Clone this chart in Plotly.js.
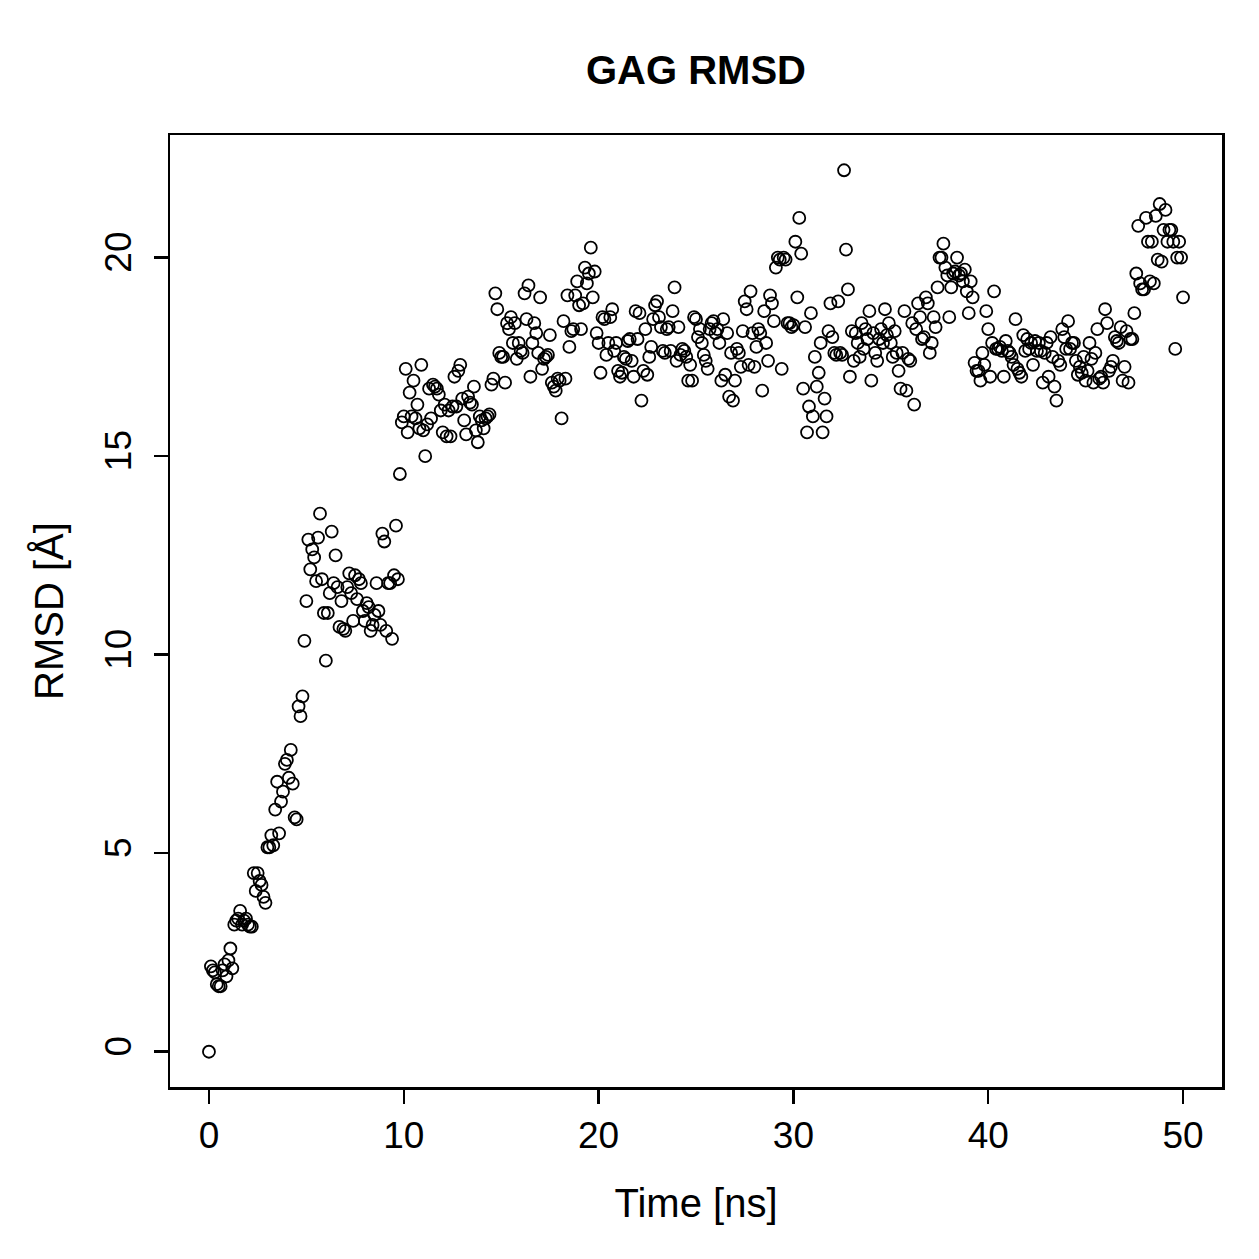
<!DOCTYPE html>
<html>
<head>
<meta charset="utf-8">
<script src="https://cdn.plot.ly/plotly-3.0.1.min.js"></script>
<style>html,body{margin:0;padding:0;background:#fff;}</style>
</head>
<body>
<div id="chart" style="width:1259px;height:1259px;"></div>
<script>
// Sampling step of the trajectory (ns)
const timeStep = 0.1;

// RMSD values [Å], one per 0.1 ns
const rmsd_0_10 = [
  0.0, 2.15, 2.05, 2.0, 1.7, 1.65, 1.65, 2.05, 2.2, 1.9,
  2.3, 2.6, 2.1, 3.2, 3.3, 3.35, 3.55, 3.2, 3.3, 3.35,
  3.2, 3.15, 3.15, 4.5, 4.05, 4.5, 4.3, 4.2, 3.9, 3.75,
  5.15, 5.15, 5.45, 5.2, 6.1, 6.8, 5.5, 6.3, 6.55, 7.25,
  7.35, 6.9, 7.6, 6.75, 5.9, 5.85, 8.7, 8.45, 8.95, 10.35,
  11.35, 12.9, 12.15, 12.65, 12.45, 11.85, 12.95, 13.55, 11.9, 11.05,
  9.85, 11.05, 11.55, 13.1, 11.8, 12.5, 11.7, 10.7, 11.35, 10.65,
  10.6, 11.7, 12.05, 11.55, 10.85, 12.0, 11.4, 11.9, 11.8, 11.1,
  10.85, 11.3, 11.2, 10.6, 10.75, 11.0, 11.8, 11.1, 10.75, 13.05,
  12.85, 10.6, 11.8, 11.8, 10.4, 12.0, 13.25, 11.9, 14.55, 15.85,
  16.0
];
const rmsd_10_15 = [
  17.2, 15.6, 16.6, 16.0, 16.9, 15.95, 16.3, 15.7, 17.3, 15.65,
  15.0, 15.8, 16.7, 15.95, 16.8, 16.75, 16.7, 16.55, 16.15, 15.6,
  16.3, 15.5, 16.15, 15.5, 16.25, 17.0, 16.25, 17.15, 17.3, 16.45,
  15.9, 15.55, 16.5, 16.35, 16.3, 16.75, 15.65, 15.35, 16.0, 15.9,
  15.7, 15.95, 16.0, 16.05, 16.8, 16.95, 19.1, 18.7, 17.6, 17.5
];
const rmsd_15_20 = [
  17.5, 16.85, 18.35, 18.2, 18.5, 17.85, 18.35, 17.45, 17.85, 17.65,
  17.6, 19.1, 18.45, 19.3, 17.0, 17.85, 18.35, 18.1, 17.6, 19.0,
  17.2, 17.45, 17.5, 17.55, 18.05, 16.85, 16.75, 16.65, 16.95, 16.9,
  15.95, 18.4, 16.95, 19.05, 17.75, 18.15, 18.2, 19.05, 19.4, 18.8,
  18.2, 18.85, 19.75, 19.35, 19.6, 20.25, 19.0, 19.65, 18.1, 17.85
];
const rmsd_20_25 = [
  17.1, 18.5, 18.45, 17.55, 17.85, 18.5, 18.7, 17.65, 17.85, 17.15,
  17.0, 17.1, 17.5, 17.45, 17.9, 17.95, 17.4, 17.0, 18.65, 17.95,
  18.6, 16.4, 17.15, 18.2, 17.05, 17.5, 17.75, 18.45, 18.8, 18.9,
  18.5, 18.25, 17.65, 17.6, 18.2, 18.25, 17.65, 18.65, 19.25, 17.4,
  18.25, 17.55, 17.7, 17.65, 17.5, 16.9, 17.3, 16.9, 18.5, 18.45
];
const rmsd_25_30 = [
  18.0, 18.2, 17.85, 17.55, 17.4, 17.2, 18.2, 18.35, 18.4, 18.1,
  18.2, 17.85, 16.9, 18.45, 17.05, 18.1, 16.5, 17.6, 16.4, 16.9,
  17.7, 17.6, 17.25, 18.15, 18.9, 18.7, 17.3, 19.15, 18.1, 17.25,
  17.75, 18.2, 18.1, 16.65, 18.65, 17.85, 17.4, 19.05, 18.85, 18.4,
  19.75, 20.0, 19.95, 17.2, 20.0, 19.95, 18.35, 18.35, 18.25, 18.3
];
const rmsd_30_35 = [
  20.4, 19.0, 21.0, 20.1, 16.7, 18.25, 15.6, 16.25, 18.6, 16.0,
  17.5, 16.75, 17.1, 17.85, 15.6, 16.45, 16.0, 18.15, 18.85, 18.0,
  17.6, 17.55, 18.9, 17.6, 17.55, 22.2, 20.2, 19.2, 17.0, 18.15,
  17.4, 18.1, 17.85, 17.5, 18.35, 17.7, 18.2, 17.95, 18.65, 16.9,
  18.1, 17.6, 17.4, 17.95, 18.2, 17.85, 18.7, 18.05, 18.35, 17.85
];
const rmsd_35_40 = [
  17.5, 18.15, 17.6, 17.15, 16.7, 17.6, 18.65, 16.65, 17.45, 17.4,
  18.35, 16.3, 18.2, 18.85, 18.5, 17.95, 18.0, 19.0, 18.85, 17.6,
  17.85, 18.5, 18.25, 19.25, 20.0, 20.0, 20.35, 19.75, 19.55, 18.5,
  19.25, 19.6, 19.65, 20.0, 19.55, 19.6, 19.4, 19.7, 19.15, 18.6,
  19.4, 19.0, 17.35, 17.15, 17.15, 16.9, 17.6, 17.3, 18.65, 18.2
];
const rmsd_40_45 = [
  17.0, 17.85, 19.15, 17.7, 17.7, 17.75, 17.65, 17.0, 17.9, 17.65,
  17.6, 17.5, 17.3, 18.45, 17.2, 17.1, 17.0, 18.05, 17.65, 17.95,
  17.7, 17.85, 17.3, 17.9, 17.65, 17.85, 17.65, 16.85, 17.6, 17.85,
  17.0, 18.0, 17.5, 16.75, 16.4, 17.4, 17.3, 18.2, 18.0, 17.7,
  18.4, 17.7, 17.85, 17.85, 17.4, 17.05, 17.25, 17.1, 17.5, 16.9
];
const rmsd_45_50 = [
  17.15, 17.85, 17.45, 16.85, 17.6, 18.2, 16.95, 17.0, 16.85, 18.7,
  18.35, 17.15, 17.25, 17.4, 18.0, 17.9, 17.85, 18.25, 16.9, 17.25,
  18.15, 16.85, 17.95, 17.95, 18.6, 19.6, 20.8, 19.35, 19.2, 19.2,
  21.0, 20.4, 19.4, 20.4, 19.35, 21.05, 19.95, 21.35, 19.9, 20.7,
  21.2, 20.4, 20.7, 20.7, 20.4, 17.7, 20.0, 20.4, 20.0, 19.0
];

// Axis ticks
const xTicks = [0, 10, 20, 30, 40, 50];
const yTicks = [0, 5, 10, 15, 20];

const rmsd = [].concat(rmsd_0_10, rmsd_10_15, rmsd_15_20, rmsd_20_25, rmsd_25_30,
                       rmsd_30_35, rmsd_35_40, rmsd_40_45, rmsd_45_50);
const time = rmsd.map((_, i) => Math.round(i * timeStep * 10) / 10);

const FONT = "Liberation Sans, Arial, Helvetica, sans-serif";

const trace = {
  x: time,
  y: rmsd,
  type: 'scatter',
  mode: 'markers',
  marker: {
    symbol: 'circle-open',
    size: 12,
    color: '#000',
    line: {color: '#000', width: 1.8}
  },
  hoverinfo: 'x+y'
};

const axisCommon = {
  showgrid: false,
  zeroline: false,
  showline: true,
  mirror: true,
  linecolor: '#000',
  linewidth: 2.5,
  ticks: 'outside',
  ticklen: 14,
  tickwidth: 2.5,
  tickcolor: '#000',
  tickfont: {family: FONT, size: 37, color: '#000'}
};

const layout = {
  width: 1259,
  height: 1259,
  paper_bgcolor: '#fff',
  plot_bgcolor: '#fff',
  margin: {l: 170, r: 37, t: 135, b: 172},
  showlegend: false,
  title: {
    text: 'GAG RMSD',
    font: {family: FONT, size: 40, color: '#000', weight: 'bold'},
    x: 0.5, xref: 'paper', xanchor: 'center',
    y: 1 - 70 / 1259, yref: 'container', yanchor: 'middle'
  },
  xaxis: Object.assign({}, axisCommon, {
    range: [-2, 52],
    tickmode: 'array',
    tickvals: xTicks,
    ticktext: xTicks.map(String),
    title: {text: 'Time [ns]', font: {family: FONT, size: 40, color: '#000'}, standoff: 34}
  }),
  yaxis: Object.assign({}, axisCommon, {
    range: [-0.888, 23.088],
    tickmode: 'array',
    tickvals: yTicks,
    ticktext: yTicks.map(String),
    tickangle: -90,
    ticklabelstandoff: 8,
    title: {text: 'RMSD [Å]', font: {family: FONT, size: 40, color: '#000'}, standoff: 22}
  })
};

Plotly.newPlot('chart', [trace], layout, {displayModeBar: false, staticPlot: true});
</script>
</body>
</html>
